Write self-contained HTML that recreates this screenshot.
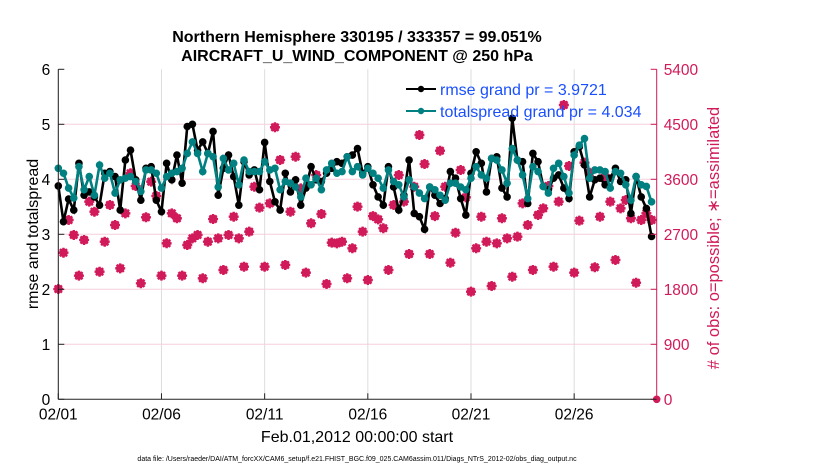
<!DOCTYPE html>
<html><head><meta charset="utf-8"><style>
body{margin:0;background:#fff;width:830px;height:470px;overflow:hidden;font-family:"Liberation Sans",Arial,sans-serif}
svg text{font-family:"Liberation Sans",Arial,sans-serif}
</style></head><body>
<svg id="c" width="830" height="470" xmlns="http://www.w3.org/2000/svg">
<text x="357" y="42" text-anchor="middle" font-size="16" font-weight="bold">Northern Hemisphere 330195 / 333357 = 99.051%</text>
<text x="357" y="61" text-anchor="middle" font-size="16" font-weight="bold">AIRCRAFT_U_WIND_COMPONENT @ 250 hPa</text>
<text transform="translate(38,234) rotate(-90)" text-anchor="middle" font-size="16">rmse and totalspread</text>
<text transform="translate(719,238) rotate(-90)" text-anchor="middle" font-size="16.5" fill="#d11a5a"># of obs: o=possible; ∗=assimilated</text>
<text x="357" y="442" text-anchor="middle" font-size="16">Feb.01,2012 00:00:00 start</text>
<text x="357" y="461" text-anchor="middle" font-size="7">data file: /Users/raeder/DAI/ATM_forcXX/CAM6_setup/f.e21.FHIST_BGC.f09_025.CAM6assim.011/Diags_NTrS_2012-02/obs_diag_output.nc</text>
<g id="grid"></g><g id="obs"></g><g id="lines"></g><g id="axes"></g>
<g>
<line x1="406" y1="89" x2="436" y2="89" stroke="#000" stroke-width="2"/><circle cx="421" cy="89" r="3.2" fill="#000"/>
<text x="440" y="95" font-size="16" fill="#1a4fff">rmse grand pr = 3.9721</text>
<line x1="406" y1="111" x2="436" y2="111" stroke="#008080" stroke-width="2"/><circle cx="421" cy="111" r="3.2" fill="#008080"/>
<text x="440" y="117" font-size="16" fill="#1a4fff">totalspread grand pr = 4.034</text>
</g>
</svg>
<script>
const rmse=[3.88,3.23,3.64,3.44,4.29,3.71,3.77,3.68,3.53,4.11,4.14,4.05,3.44,4.35,4.53,3.99,3.62,4.20,4.23,3.62,3.41,4.29,3.99,4.44,3.93,4.96,5.0,4.53,4.68,4.47,4.87,
3.71,4.20,4.44,4.05,3.53,4.32,4.08,4.17,3.81,4.67,3.96,3.59,3.44,4.11,3.77,3.99,3.53,3.84,4.23,3.99,3.96,4.11,4.20,4.32,4.29,4.41,4.44,4.56,4.11,
4.23,3.90,3.68,3.53,4.23,3.86,3.44,3.71,4.35,3.38,3.32,3.09,3.86,3.71,3.56,3.65,4.14,4.02,3.65,3.35,4.11,4.50,4.29,3.77,4.38,4.41,3.84,3.68,5.11,
4.35,4.32,3.56,4.47,4.32,3.87,3.81,4.02,4.08,3.84,3.65,4.50,4.59,4.26,3.68,3.99,4.02,3.90,4.02,4.20,3.96,3.99,3.38,4.05,3.68,3.47,2.96];
const spread=[4.20,4.11,3.84,3.66,4.23,3.81,4.05,3.71,4.26,4.02,4.11,3.75,3.99,4.02,4.05,3.96,3.78,4.17,4.17,4.11,3.84,4.05,4.11,4.14,4.20,4.47,4.68,4.47,4.14,4.47,4.41,
3.86,4.38,4.17,4.29,3.90,4.35,4.14,4.14,4.14,4.32,4.17,4.20,3.81,3.96,3.93,3.86,3.68,4.02,3.90,4.02,3.81,4.17,4.29,4.11,4.14,4.41,4.14,4.23,4.08,
4.20,4.11,4.02,3.84,4.17,3.96,3.90,3.68,3.99,3.86,3.75,3.65,3.86,3.81,3.71,3.62,3.93,3.93,3.86,3.81,4.02,4.23,4.08,4.02,4.38,4.35,4.17,3.93,4.56,
4.35,4.08,3.65,4.23,4.14,3.87,3.75,4.20,4.29,4.05,3.75,4.44,4.62,4.74,4.02,4.17,4.17,4.14,3.84,4.14,4.11,3.90,3.62,4.05,3.90,3.87,3.59];
const nAssim=[1804,2399,2934,2689,2023,2607,3234,3070,2088,2579,3180,2852,2143,3043,3698,3490,1898,2978,3561,3327,2023,2553,3043,2962,2023,2525,2634,2689,1980,2579,2950,
2634,2116,2689,2988,2634,2170,2743,3479,3136,2170,3207,4451,3916,2198,3070,3970,3452,2072,2880,3670,3032,1887,2563,2552,2579,1980,2471,3152,2743,
1952,2998,2945,2800,2116,3180,3670,3234,2377,3479,4325,3850,2377,2998,4068,3479,2235,2726,3752,3305,1761,2471,2988,2579,1854,2552,2962,2634,2006,
2661,3207,2852,2116,3016,3125,3490,2170,3234,4816,3817,2072,2923,3872,3708,2160,2988,3633,3234,2280,3125,3261,2962,1908,2934,3043,2934];
const nPossible=nAssim.slice();
const xTickLabels=["02/01","02/06","02/11","02/16","02/21","02/26"];
const xTickDays=[0,5,10,15,20,25];
const yLeftTicks=[0,1,2,3,4,5,6];
const yRightTicks=[0,900,1800,2700,3600,4500,5400];
const stepDays=0.25, xMaxDays=29;
const L=58.3,R=656.7,T=69.3,B=399.3;
const X=d=>L+(R-L)*d/xMaxDays, YL=v=>B-(B-T)*v/6, YR=v=>B-(B-T)*v/5400;
const NS="http://www.w3.org/2000/svg";
function mk(tag,at,parent){const e=document.createElementNS(NS,tag);for(const k in at)e.setAttribute(k,at[k]);document.getElementById(parent).appendChild(e);return e;}
xTickDays.forEach((d,i)=>{const g=mk('line',{x1:X(d),x2:X(d),y1:T,y2:B,stroke:'#ddd','stroke-width':1},'grid');


const t=mk('line',{x1:X(d),x2:X(d),y1:B,y2:B-6,stroke:'#222'},'axes');


const l=mk('text',{x:X(d),y:B+20,'text-anchor':'middle','font-size':15.5},'axes');l.textContent=xTickLabels[i];

});
yRightTicks.forEach(v=>{if(v>0&&v<5400){const g=mk('line',{x1:L,x2:R,y1:YR(v),y2:YR(v),stroke:'#f6cfdc','stroke-width':1},'grid');

}
const t=mk('line',{x1:R,x2:R-6,y1:YR(v),y2:YR(v),stroke:'#d11a5a'},'axes');


const l=mk('text',{x:R+7,y:YR(v)+5.5,'font-size':15.5,fill:'#d11a5a'},'axes');l.textContent=v;

});
yLeftTicks.forEach(v=>{const t=mk('line',{x1:L,x2:L+6,y1:YL(v),y2:YL(v),stroke:'#222'},'axes');


const l=mk('text',{x:L-8,y:YL(v)+5.5,'text-anchor':'end','font-size':15.5},'axes');l.textContent=v;

});
let a=mk('line',{x1:L,x2:L,y1:T,y2:B,stroke:'#222'},'axes');


a=mk('line',{x1:L,x2:R,y1:B,y2:B,stroke:'#222'},'axes');


a=mk('line',{x1:R,x2:R,y1:T,y2:B,stroke:'#d11a5a'},'axes');


nPossible.forEach((v,i)=>{const c=mk('circle',{cx:X(i*stepDays),cy:YR(v),r:3.5,fill:'none',stroke:'#d11a5a','stroke-width':1.5},'obs');

});
nAssim.forEach((v,i)=>{const x=X(i*stepDays),y=YR(v);const s=mk('path',{d:`M${x-5},${y}H${x+5}M${x},${y-5}V${y+5}M${x-3.6},${y-3.6}L${x+3.6},${y+3.6}M${x-3.6},${y+3.6}L${x+3.6},${y-3.6}`,stroke:'#d11a5a','stroke-width':2.4},'obs');


const d=mk('circle',{cx:x,cy:y,r:3.4,fill:'#d11a5a'},'obs');

});
let z=mk('circle',{cx:R,cy:YR(0),r:3.8,fill:'#d11a5a'},'obs');


function series(arr,col,name){const p=mk('polyline',{points:arr.map((v,i)=>X(i*stepDays)+','+YL(v)).join(' '),fill:'none',stroke:col,'stroke-width':2.6},'lines');


arr.forEach((v,i)=>{const c=mk('circle',{cx:X(i*stepDays),cy:YL(v),r:3.8,fill:col},'lines');

});}
series(rmse,'#000','rmse');
series(spread,'#008080','totalspread');
</script>
</body></html>
